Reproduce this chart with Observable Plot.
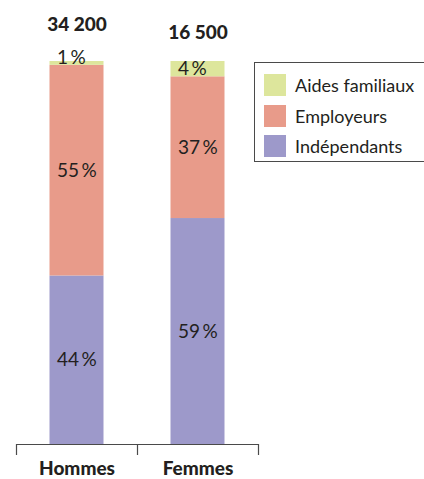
<!DOCTYPE html>
<html>
<head>
<meta charset="utf-8">
<script src="https://cdn.jsdelivr.net/npm/d3@7"></script>
<script src="https://cdn.jsdelivr.net/npm/@observablehq/plot@0.6"></script>
<style>
  html, body { margin: 0; padding: 0; background: #fff; overflow: hidden; }
  #wrap { position: relative; width: 424px; height: 479px; overflow: hidden; }
  #legend { position: absolute; left: 254px; top: 62px; width: 200px; height: 100px;
    border: 1px solid #4a4a4a; box-sizing: border-box; font-family: Lato, sans-serif; }
  .item { position: absolute; left: 9px; display: flex; align-items: center; font-size: 18px; color: #231f20; }
  .sw { width: 22px; height: 22px; margin-right: 9px; }
  svg text.bold { letter-spacing: -0.7px; }
  svg text.pct { letter-spacing: -0.4px; }
</style>
</head>
<body>
<div id="wrap"><div id="legend"></div></div>
<script>
const categories = ["Hommes", "Femmes"];
const totals = ["34 200", "16 500"];
const series = ["Indépendants", "Employeurs", "Aides familiaux"];
const independants = [44, 59];
const employeurs = [55, 37];
const aidesFamiliaux = [1, 4];
const colors = ["#9d99ca", "#e89b8a", "#dde69c"];

const seriesValues = [independants, employeurs, aidesFamiliaux];
const rows = [];
categories.forEach((cat, i) => {
  let acc = 0;
  series.forEach((s, j) => {
    const v = seriesValues[j][i];
    rows.push({cat, series: s, value: v, y1: acc, y2: acc + v, mid: acc + v / 2});
    acc += v;
  });
});

const ink = "#231f20";
const font = "Lato, sans-serif";
const pctText = d => d.value + "\u2009%";

const chart = Plot.plot({
  width: 424,
  height: 479,
  marginLeft: 16,
  marginRight: 166,
  marginTop: 61,
  marginBottom: 35,
  style: {fontFamily: font, background: "white"},
  x: {domain: categories, padding: 0, axis: null},
  y: {domain: [0, 100], axis: null},
  color: {domain: series, range: colors},
  marks: [
    Plot.barY(rows, {x: "cat", y1: "y1", y2: "y2", fill: "series", insetLeft: 33.5, insetRight: 33.5}),
    Plot.text(rows.filter(d => d.value >= 2), {x: "cat", y: "mid", text: pctText, textAnchor: "start", dx: -20, fontSize: 19, fill: ink, className: "pct"}),
    Plot.text(rows.filter(d => d.value < 2), {x: "cat", y: "mid", text: pctText, textAnchor: "start", dx: -20, dy: -6, fontSize: 19, fill: ink, className: "pct"}),
    Plot.ruleY([0], {stroke: "#4a4a4a", strokeWidth: 1.2}),
    Plot.ruleX(categories, {x: d => d, y1: 0, y2: 0, dx: -60.5, insetBottom: -11, stroke: "#4a4a4a", strokeWidth: 1.2}),
    Plot.ruleX(categories.slice(-1), {x: d => d, y1: 0, y2: 0, dx: 60.5, insetBottom: -11, stroke: "#4a4a4a", strokeWidth: 1.2}),
    Plot.text(categories, {x: d => d, y: 0, dy: 24.5, text: d => d, fontSize: 19, fontWeight: 900, fill: ink, className: "bold"}),
    Plot.text([0], {x: i => categories[i], y: 100, dy: -36.5, text: i => totals[i], fontSize: 19, fontWeight: 900, fill: ink, className: "bold"}),
    Plot.text([1], {x: i => categories[i], y: 100, dy: -29, text: i => totals[i], fontSize: 19, fontWeight: 900, fill: ink, className: "bold"})
  ]
});
document.getElementById("wrap").prepend(chart);

const legend = document.getElementById("legend");
const order = [2, 1, 0];
const tops = [11, 42, 72];
order.forEach((j, k) => {
  const item = document.createElement("div");
  item.className = "item";
  item.style.top = tops[k] + "px";
  const sw = document.createElement("div");
  sw.className = "sw";
  sw.style.background = colors[j];
  const label = document.createElement("span");
  label.textContent = series[j];
  item.appendChild(sw);
  item.appendChild(label);
  legend.appendChild(item);
});
</script>
</body>
</html>
